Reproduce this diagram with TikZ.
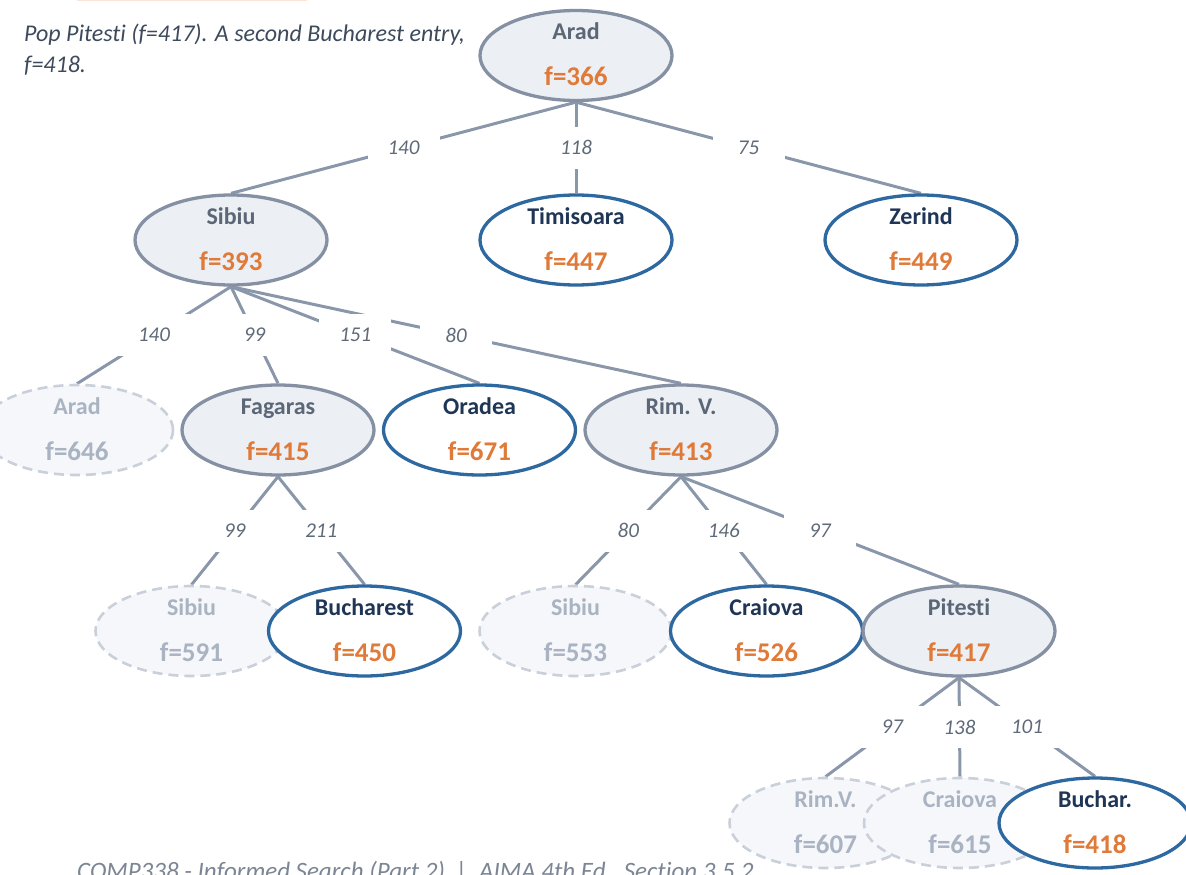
\documentclass[tikz,border=0pt]{standalone}
\usepackage{fontspec}
\setmainfont{Carlito}[Ligatures=NoCommon]
\usetikzlibrary{shapes.geometric}
\pgfdeclarelayer{bg}
\pgfsetlayers{bg,main}
\definecolor{edgec}{HTML}{8A97AA}
\definecolor{expb}{HTML}{8591A3}
\definecolor{expf}{HTML}{ECEFF4}
\definecolor{frb}{HTML}{2E68A0}
\definecolor{prb}{HTML}{C9D0DA}
\definecolor{prf}{HTML}{F5F7FB}
\definecolor{expt}{HTML}{5B6677}
\definecolor{frt}{HTML}{1F3556}
\definecolor{prt}{HTML}{A9B3C1}
\definecolor{orng}{HTML}{E07A39}
\definecolor{lblc}{HTML}{5F6A79}
\definecolor{notec}{HTML}{3D4A5C}
\definecolor{footc}{HTML}{7B8594}
\definecolor{peach}{HTML}{FBE3D6}
\newcommand\titlefont{\fontsize{24}{27}\selectfont\bfseries}
\newcommand\ffont{\fontsize{27}{31}\selectfont\bfseries}
% #1 name, #2 style, #3 x, #4 y, #5 title, #6 f, #7 title colour, #8 f colour
\newcommand\tnode[8]{%
  \node[#2] (#1) at (#3,#4) {};
  \node[anchor=base, inner sep=0pt, font=\titlefont, text=#7] (#1-t) at ([yshift=16pt]#1.center) {#5};
  \node[anchor=base, inner sep=0pt, font=\ffont, text=#8] (#1-f) at ([yshift=-30pt]#1.center) {#6};}
\begin{document}
\begin{tikzpicture}[x=1pt,y=-1pt,
  base/.style={ellipse, minimum width=192pt, minimum height=90pt, inner sep=0pt, line width=3.3pt},
  expd/.style={base, draw=expb, fill=expf},
  front/.style={base, draw=frb, fill=white},
  pruned/.style={base, draw=prb, fill=prf, dash pattern=on 10pt off 6pt, line width=2.6pt},
  edge/.style={draw=edgec, line width=3pt},
  wt/.style={fill=white, minimum width=72pt, minimum height=42pt, inner sep=0pt,
             font=\fontsize{21}{24}\selectfont\itshape, text=lblc}]
\useasboundingbox (0,0) rectangle (1186,875);
\clip (0,0) rectangle (1186,875);
\fill[peach] (77,-10) rectangle (307,1.5);
% notes
\node[anchor=base west, inner sep=0pt, font=\fontsize{24}{31}\selectfont\itshape, text=notec]
  (note1) at (24,42) {Pop Pitesti (f=417). A second Bucharest entry,};
\node[anchor=base west, inner sep=0pt, font=\fontsize{24}{31}\selectfont\itshape, text=notec]
  (note2) at (24,73) {f=418.};
\node[anchor=base west, inner sep=0pt, font=\fontsize{25}{30}\selectfont\itshape, text=footc]
  (foot) at (77,879) {COMP338 - Informed Search (Part 2) \ | \ AIMA 4th Ed., Section 3.5.2};
% level 0
\tnode{arad}{expd}{576}{55.5}{Arad}{f=366}{expt}{orng}
% level 1
\tnode{sibiu}{expd}{231}{240}{Sibiu}{f=393}{expt}{orng}
\tnode{timi}{front}{576}{240}{Timisoara}{f=447}{frt}{orng}
\tnode{zerind}{front}{921}{240}{Zerind}{f=449}{frt}{orng}
% level 2
\tnode{aradb}{pruned}{77}{430}{Arad}{f=646}{prt}{prt}
\tnode{fag}{expd}{278}{430}{Fagaras}{f=415}{expt}{orng}
\tnode{ora}{front}{479.5}{430}{Oradea}{f=671}{frt}{orng}
\tnode{rim}{expd}{681}{430}{Rim. V.}{f=413}{expt}{orng}
% level 3
\tnode{sibb}{pruned}{191.5}{631}{Sibiu}{f=591}{prt}{prt}
\tnode{buc}{front}{364.5}{631}{Bucharest}{f=450}{frt}{orng}
\tnode{sibc}{pruned}{575.5}{631}{Sibiu}{f=553}{prt}{prt}
\tnode{cra}{front}{766.5}{631}{Craiova}{f=526}{frt}{orng}
\tnode{pit}{expd}{959}{631}{Pitesti}{f=417}{expt}{orng}
% level 4
\tnode{rimb}{pruned}{825.5}{823}{Rim.V.}{f=607}{prt}{prt}
\tnode{crab}{pruned}{960}{823}{Craiova}{f=615}{prt}{prt}
\tnode{bucb}{front}{1095}{823}{Buchar.}{f=418}{frt}{orng}
\begin{pgfonlayer}{bg}
\foreach \a/\b in {arad/sibiu,arad/timi,arad/zerind,
  sibiu/aradb,sibiu/fag,sibiu/ora,sibiu/rim,
  fag/sibb,fag/buc,rim/sibc,rim/cra,rim/pit,
  pit/rimb,pit/crab,pit/bucb}
  \draw[edge] (\a.south) -- (\b.north);
\foreach \a/\b/\w in {arad/sibiu/140,arad/timi/118,arad/zerind/75,
  sibiu/aradb/140,sibiu/fag/99,sibiu/ora/151,sibiu/rim/80,
  fag/sibb/99,fag/buc/211,rim/sibc/80,rim/cra/146,rim/pit/97,
  pit/rimb/97,pit/crab/138,pit/bucb/101}
  \path (\a.south) -- node[wt] (w-\a-\b) {\w} (\b.north);
\end{pgfonlayer}
\end{tikzpicture}
\end{document}
